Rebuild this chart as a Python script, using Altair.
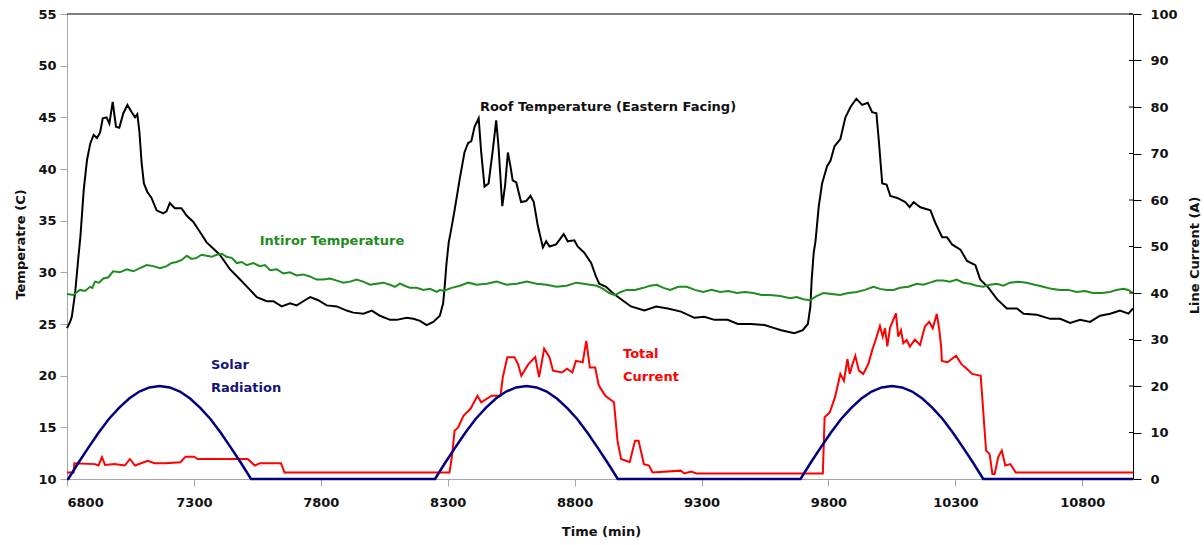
import altair as alt
import pandas as pd

# ---------------- data ----------------
# Roof temperature (deg C) : (time min, value)
roof = [(6800, 24.6), (6812, 25.2), (6819, 25.7), (6832, 28.0), (6845, 31.5), (6853, 33.5),
        (6866, 38.0), (6879, 40.9), (6892, 42.5), (6905, 43.3), (6918, 43.0), (6930, 43.5),
        (6941, 44.9), (6956, 45.0), (6967, 44.4), (6980, 46.5), (6993, 44.1), (7006, 44.0),
        (7022, 45.4), (7038, 46.2), (7055, 45.5), (7068, 45.0), (7077, 45.3), (7085, 43.7),
        (7094, 40.6), (7103, 38.6), (7116, 37.8), (7133, 37.2), (7153, 36.0), (7179, 35.7),
        (7192, 35.9), (7205, 36.7), (7225, 36.2), (7251, 36.2), (7271, 35.5), (7297, 34.9),
        (7324, 33.9), (7350, 32.9), (7376, 32.3), (7402, 31.7), (7442, 30.3), (7482, 29.3),
        (7521, 28.3), (7548, 27.6), (7587, 27.2), (7613, 27.2), (7646, 26.7), (7679, 27.0),
        (7705, 26.8), (7731, 27.2), (7758, 27.6), (7790, 27.3), (7823, 26.8), (7863, 26.7),
        (7902, 26.3), (7928, 26.1), (7968, 26.0), (8001, 26.3), (8033, 25.8), (8073, 25.4),
        (8099, 25.4), (8138, 25.6), (8165, 25.5), (8191, 25.3), (8217, 24.9), (8243, 25.2),
        (8269, 25.8), (8282, 27.0), (8288, 28.6), (8295, 30.8), (8304, 32.9), (8311, 33.8),
        (8327, 36.0), (8347, 39.0), (8366, 41.6), (8380, 42.5), (8393, 42.7), (8406, 44.1),
        (8422, 44.9), (8432, 41.6), (8445, 38.3), (8461, 38.6), (8478, 41.9), (8491, 44.7),
        (8500, 42.2), (8515, 36.4), (8526, 38.4), (8537, 41.6), (8547, 40.3), (8556, 38.9),
        (8570, 38.7), (8589, 36.8), (8609, 36.9), (8626, 37.4), (8639, 36.8), (8655, 34.5),
        (8675, 32.4), (8688, 33.0), (8701, 32.5), (8727, 32.7), (8757, 33.7), (8773, 33.0),
        (8799, 33.1), (8812, 32.5), (8838, 31.9), (8865, 30.9), (8884, 29.6), (8897, 28.9),
        (8924, 28.6), (8950, 28.0), (8983, 27.4), (9022, 26.7), (9075, 26.3), (9121, 26.7),
        (9167, 26.5), (9219, 26.2), (9272, 25.6), (9311, 25.7), (9351, 25.4), (9403, 25.4),
        (9443, 25.0), (9495, 25.0), (9548, 24.9), (9587, 24.6), (9614, 24.4), (9666, 24.1),
        (9699, 24.4), (9719, 25.0), (9729, 26.7), (9734, 29.3), (9742, 31.9), (9749, 33.0),
        (9762, 36.4), (9775, 38.6), (9795, 40.3), (9808, 40.8), (9824, 42.2), (9847, 42.9),
        (9867, 45.0), (9887, 46.0), (9910, 46.8), (9933, 46.2), (9955, 46.4), (9972, 45.5),
        (9989, 45.4), (9998, 42.9), (10012, 38.6), (10029, 38.5), (10044, 37.4), (10071, 37.2),
        (10103, 36.8), (10120, 36.3), (10136, 36.8), (10162, 36.3), (10202, 36.0), (10221, 34.8),
        (10248, 33.4), (10267, 33.4), (10287, 32.7), (10320, 32.2), (10346, 31.1), (10379, 30.7),
        (10398, 29.3), (10431, 28.5), (10464, 27.4), (10503, 26.5), (10543, 26.5), (10569, 26.0),
        (10621, 25.9), (10674, 25.5), (10713, 25.5), (10752, 25.1), (10792, 25.4), (10831, 25.2),
        (10870, 25.8), (10910, 26.0), (10949, 26.3), (10982, 26.0), (11000, 26.5)]

# Interior temperature (deg C)
interior = [(6800, 27.9), (6825, 27.8), (6851, 28.3), (6871, 28.2), (6891, 28.6), (6900, 28.5),
            (6910, 29.1), (6926, 29.0), (6943, 29.4), (6962, 29.5), (6982, 30.1), (7008, 30.0),
            (7035, 30.3), (7061, 30.1), (7088, 30.4), (7114, 30.7), (7140, 30.6), (7166, 30.4),
            (7193, 30.6), (7212, 30.9), (7232, 31.0), (7252, 31.2), (7272, 31.6), (7291, 31.3),
            (7311, 31.4), (7330, 31.7), (7350, 31.6), (7370, 31.5), (7390, 31.7), (7410, 31.8),
            (7429, 31.5), (7449, 31.4), (7469, 30.9), (7488, 31.0), (7508, 30.7), (7534, 30.9),
            (7560, 30.6), (7580, 30.7), (7600, 30.2), (7626, 30.3), (7652, 29.9), (7678, 30.0),
            (7705, 29.7), (7731, 29.8), (7757, 29.6), (7783, 29.3), (7810, 29.3), (7836, 29.4),
            (7863, 29.2), (7889, 29.0), (7915, 29.1), (7941, 29.3), (7967, 29.1), (7994, 28.8),
            (8020, 28.9), (8046, 29.0), (8073, 28.8), (8092, 28.6), (8112, 28.9), (8131, 28.7),
            (8151, 28.5), (8178, 28.5), (8204, 28.3), (8230, 28.4), (8257, 28.1), (8270, 28.3),
            (8283, 28.2), (8315, 28.5), (8348, 28.7), (8381, 29.0), (8414, 28.8), (8453, 28.9),
            (8493, 29.1), (8532, 28.8), (8572, 28.9), (8611, 29.1), (8651, 28.9), (8690, 28.8),
            (8729, 28.6), (8768, 28.7), (8808, 29.0), (8835, 28.9), (8861, 28.8), (8887, 28.7),
            (8913, 28.4), (8936, 28.0), (8959, 27.8), (8982, 28.1), (9005, 28.3), (9038, 28.3),
            (9071, 28.5), (9097, 28.7), (9124, 28.8), (9150, 28.5), (9176, 28.3), (9209, 28.6),
            (9242, 28.6), (9274, 28.3), (9307, 28.1), (9340, 28.3), (9373, 28.1), (9406, 28.2),
            (9439, 28.0), (9471, 28.1), (9504, 28.0), (9537, 27.8), (9570, 27.8), (9610, 27.7),
            (9649, 27.5), (9675, 27.6), (9701, 27.4), (9727, 27.3), (9753, 27.7), (9780, 28.0),
            (9813, 27.9), (9846, 27.8), (9878, 28.0), (9911, 28.1), (9944, 28.3), (9977, 28.6),
            (10003, 28.4), (10030, 28.3), (10056, 28.3), (10082, 28.5), (10115, 28.6), (10148, 28.9),
            (10174, 28.8), (10200, 29.0), (10226, 29.2), (10253, 29.2), (10279, 29.1), (10305, 29.3),
            (10331, 29.0), (10358, 28.9), (10384, 28.7), (10410, 28.6), (10436, 28.8), (10463, 28.9),
            (10489, 28.7), (10515, 29.0), (10548, 29.1), (10581, 29.0), (10613, 28.8), (10646, 28.6),
            (10679, 28.4), (10712, 28.3), (10745, 28.3), (10778, 28.1), (10810, 28.2), (10843, 28.0),
            (10876, 28.0), (10909, 28.1), (10935, 28.3), (10962, 28.4), (10981, 28.3), (11000, 28.0)]

# Total current (A), right axis
current = [(6800, 1.4), (6826, 1.4), (6829, 3.4), (6910, 3.2), (6924, 2.9), (6938, 4.7),
           (6950, 3.0), (6987, 3.2), (7028, 2.9), (7048, 4.3), (7068, 2.9), (7118, 3.9),
           (7145, 3.4), (7187, 3.4), (7247, 3.6), (7267, 4.8), (7301, 4.8), (7315, 4.3),
           (7512, 4.3), (7540, 2.9), (7561, 3.4), (7643, 3.4), (7657, 1.4), (8307, 1.4),
           (8318, 5.4), (8327, 10.4), (8341, 11.1), (8362, 13.6), (8390, 15.1), (8417, 17.9),
           (8432, 16.5), (8473, 17.9), (8508, 17.9), (8517, 21.9), (8535, 26.2), (8563, 26.2),
           (8577, 24.7), (8590, 22.2), (8618, 24.7), (8645, 26.2), (8660, 21.9), (8680, 28.0),
           (8701, 26.2), (8715, 23.3), (8750, 22.9), (8770, 23.7), (8791, 22.9), (8805, 25.4),
           (8832, 25.1), (8846, 29.7), (8860, 24.0), (8881, 24.0), (8894, 20.4), (8900, 19.7),
           (8921, 17.9), (8955, 16.5), (8969, 8.2), (8983, 4.3), (9017, 3.6), (9038, 8.2),
           (9052, 8.2), (9073, 3.2), (9093, 2.9), (9107, 1.4), (9218, 1.8), (9232, 1.2),
           (9259, 1.6), (9280, 1.2), (9778, 1.2), (9785, 13.3), (9805, 14.3), (9826, 17.6),
           (9847, 22.6), (9861, 21.1), (9875, 25.8), (9884, 22.6), (9895, 24.7), (9906, 26.5),
           (9920, 23.3), (9937, 22.6), (9957, 24.7), (9972, 27.6), (9990, 30.6), (10003, 32.9),
           (10014, 30.6), (10023, 32.4), (10032, 28.5), (10043, 32.6), (10066, 35.6), (10075, 30.6),
           (10086, 32.0), (10095, 29.2), (10108, 29.9), (10121, 28.5), (10141, 30.0), (10161, 28.8),
           (10180, 32.8), (10197, 33.8), (10211, 32.4), (10227, 35.5), (10237, 32.0), (10244, 28.5),
           (10247, 25.4), (10269, 25.1), (10303, 26.5), (10324, 24.7), (10345, 23.7), (10366, 22.6),
           (10400, 22.2), (10421, 6.1), (10435, 5.4), (10446, 1.1), (10455, 1.1), (10469, 4.7),
           (10483, 6.1), (10497, 2.9), (10517, 3.2), (10538, 1.4), (11000, 1.4)]

# Solar radiation (drawn against the right axis scale)
solar = [(6800, 0.0),
         (6805, 0.0), (6845, 3.5), (6885, 6.8), (6925, 10.0), (6965, 12.9), (7005, 15.3),
         (7045, 17.3), (7085, 18.8), (7125, 19.7), (7165, 20.0), (7205, 19.7), (7245, 18.8),
         (7285, 17.3), (7325, 15.3), (7365, 12.9), (7405, 10.0), (7445, 6.8), (7485, 3.5),
         (7525, 0.0),
         (8250, 0.0), (8290, 3.5), (8330, 6.8), (8370, 10.0), (8410, 12.9), (8450, 15.3),
         (8490, 17.3), (8530, 18.8), (8570, 19.7), (8610, 20.0), (8650, 19.7), (8690, 18.8),
         (8730, 17.3), (8770, 15.3), (8810, 12.9), (8850, 10.0), (8890, 6.8), (8930, 3.5),
         (8970, 0.0),
         (9690, 0.0), (9730, 3.5), (9770, 6.8), (9810, 10.0), (9850, 12.9), (9890, 15.3),
         (9930, 17.3), (9970, 18.8), (10010, 19.7), (10050, 20.0), (10090, 19.7), (10130, 18.8),
         (10170, 17.3), (10210, 15.3), (10250, 12.9), (10290, 10.0), (10330, 6.8), (10370, 3.5),
         (10410, 0.0),
         (11000, 0.0)]

x_ticks = [6800, 7300, 7800, 8300, 8800, 9300, 9800, 10300, 10800]
temp_ticks = [10, 15, 20, 25, 30, 35, 40, 45, 50, 55]
cur_ticks = [0, 10, 20, 30, 40, 50, 60, 70, 80, 90, 100]

# ---------------- chart ----------------
FONT = "DejaVu Sans"
W, H = 1066, 465
GRAY = "#a6a6a6"
FS = 13


def frame(pairs):
    return pd.DataFrame(pairs, columns=["t", "v"])


x_enc = alt.X("t:Q", scale=alt.Scale(domain=[6800, 11000], nice=False, zero=False),
              axis=alt.Axis(values=x_ticks, format="d", title="Time (min)",
                            domainColor=GRAY, tickColor=GRAY, tickSize=7, grid=False,
                            labelPadding=10, labelFontSize=FS, labelFontWeight="bold",
                            labelColor="#111111", labelFont=FONT,
                            titleFont=FONT, titleFontSize=FS, titleFontWeight="bold",
                            titleColor="#111111", titleX=534, titleY=52,
                            titleBaseline="middle"))

left_axis = alt.Axis(values=temp_ticks, orient="left", title="Temperatre (C)", grid=False,
                     domainColor=GRAY, tickColor=GRAY, tickSize=7, labelPadding=4,
                     labelFontSize=FS, labelFontWeight="bold", labelColor="#111111",
                     labelFont=FONT, titleFont=FONT, titleFontSize=FS,
                     titleFontWeight="bold", titleColor="#111111", titleAngle=270,
                     titleX=-47, titleY=230, titleAlign="center", titleBaseline="middle")
left_scale = alt.Scale(domain=[10, 55], nice=False, zero=False)

right_axis = alt.Axis(values=cur_ticks, orient="right", title="Line Current (A)", grid=False,
                      domainColor="black", tickColor="black", tickSize=8, labelPadding=9,
                      labelFontSize=FS, labelFontWeight="bold", labelColor="#111111",
                      labelFont=FONT, titleFont=FONT, titleFontSize=FS,
                      titleFontWeight="bold", titleColor="#111111", titleAngle=270,
                      titleX=61, titleY=241, titleAlign="center", titleBaseline="middle")
right_scale = alt.Scale(domain=[0, 100], nice=False)

y_left = alt.Y("v:Q", scale=left_scale, axis=left_axis)
y_right = alt.Y("v:Q", scale=right_scale, axis=right_axis)

roof_line = alt.Chart(frame(roof)).mark_line(color="black", strokeWidth=2).encode(x=x_enc, y=y_left)
int_line = alt.Chart(frame(interior)).mark_line(color="#1e8c1e", strokeWidth=2).encode(x=x_enc, y=y_left)

top_border = alt.Chart(pd.DataFrame({"a": [0]})).mark_rule(color="black", strokeWidth=1).encode(
    x=alt.value(0), x2=alt.value(W), y=alt.value(0))


def label(lines, color, x, y, align):
    return alt.Chart(pd.DataFrame({"txt": [lines]})).mark_text(
        font=FONT, fontSize=FS, fontWeight="bold", color=color, align=align,
        baseline="middle", lineBreak="\n", lineHeight=23).encode(
        text="txt:N", x=alt.value(x), y=alt.value(y))


roof_lbl = label("Roof Temperature (Eastern Facing)", "#111111", 541, 93, "center")
int_lbl = label("Intiror Temperature", "#1e8c1e", 265, 227, "center")
sol_lbl = label("Solar\nRadiation", "#14147a", 144, 351, "left")
cur_lbl = label("Total\nCurrent", "#ff0000", 556, 340, "left")

left_group = alt.layer(top_border, roof_line, int_line, roof_lbl, int_lbl, sol_lbl, cur_lbl)

cur_line = alt.Chart(frame(current)).mark_line(color="#ff0000", strokeWidth=2).encode(x=x_enc, y=y_right)
sol_line = alt.Chart(frame(solar)).mark_line(color="#000080", strokeWidth=2.5).encode(x=x_enc, y=y_right)
inner_ticks = alt.Chart(pd.DataFrame({"v": cur_ticks[1:]})).mark_rule(color="black", strokeWidth=1).encode(
    y=y_right, x=alt.value(W - 4), x2=alt.value(W))

right_group = alt.layer(cur_line, sol_line, inner_ticks)

chart = alt.layer(left_group, right_group).resolve_scale(y="independent").properties(
    width=W, height=H,
    padding={"left": 67, "top": 14, "right": 71, "bottom": 66},
    autosize=alt.AutoSizeParams(type="none"),
    background="white",
).configure_view(stroke=None)

chart.save("out.html", embed_options={"renderer": "svg", "actions": False})
